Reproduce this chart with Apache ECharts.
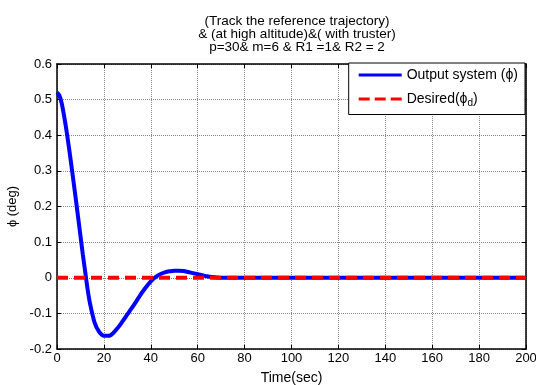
<!DOCTYPE html>
<html><head><meta charset="utf-8">
<script src="https://cdn.jsdelivr.net/npm/echarts@6/dist/echarts.min.js"></script>
<style>html,body{margin:0;padding:0;background:#fff}#c{width:536px;height:385px}</style>
</head><body><div id="c"></div>
<script>
const timeSec = [0,1,2,3,4,5,6,7,8,9,10,11,12,13,14,16,18,20,22,24,26,28,30,32,34,36,38,40,42,44,46,48,50,52,54,56,58,60,62,64,66,68,70,80,100,120,140,160,180,200];
const outputPhi = [0.52,0.512,0.49,0.455,0.415,0.37,0.322,0.272,0.222,0.17,0.118,0.066,0.018,-0.03,-0.07,-0.125,-0.152,-0.163,-0.163,-0.155,-0.14,-0.122,-0.103,-0.084,-0.064,-0.044,-0.026,-0.01,0.002,0.01,0.015,0.018,0.02,0.02,0.019,0.016,0.013,0.01,0.007,0.004,0.002,0.001,0,0,0,0,0,0,0,0];
const desiredTime = [0,200];
const desiredPhi = [0,0];
const titleLines = ['(Track the reference trajectory)','& (at high altitude)&( with truster)','p=30& m=6 & R1 =1& R2 = 2'];
const seriesNames = ['Output system (ϕ)','Desired(ϕd)'];

const font = 'Liberation Sans, Arial, sans-serif';
const chart = echarts.init(document.getElementById('c'), null, {renderer:'canvas'});
const axBase = {
  axisLine:{show:true,onZero:false,lineStyle:{color:'#000',width:1.5}},
  axisTick:{show:true,inside:true,length:4,lineStyle:{color:'#000'}},
};
chart.setOption({
  animation:false,
  backgroundColor:'#fff',
  title:{text:titleLines.join('\n'),left:292,top:10,textAlign:'center',
    textStyle:{fontFamily:font,fontSize:13.5,fontWeight:'normal',color:'#000',lineHeight:13}},
  grid:{left:57,right:10,top:64,bottom:36,show:false,containLabel:false,outerBoundsMode:'none'},
  legend:{show:true,orient:'vertical',right:11,top:63,
    backgroundColor:'#fff',borderColor:'#000',borderWidth:1,
    padding:[5,7,6,10],itemGap:10,itemWidth:43,itemHeight:14,
    data:[{name:seriesNames[0],icon:'path://M0,5.5L43,5.5L43,8.5L0,8.5Z'},
          {name:seriesNames[1],icon:'path://M0,5.5L11,5.5L11,8.5L0,8.5Z M16,5.5L27,5.5L27,8.5L16,8.5Z M32,5.5L43,5.5L43,8.5L32,8.5Z'}],
    formatter:function(n){return n===seriesNames[1]?'Desired(ϕ{sub|d})':n;},
    textStyle:{fontFamily:font,fontSize:14,color:'#000',
      rich:{sub:{fontFamily:font,fontSize:10,color:'#000',padding:[9,0,0,0]}}}},
  xAxis:[
    Object.assign({type:'value',min:0,max:200,interval:20,position:'bottom',
      name:'Time(sec)',nameLocation:'middle',nameGap:22,
      nameTextStyle:{fontFamily:font,fontSize:14,color:'#000'},
      axisLabel:{fontFamily:font,fontSize:13,color:'#000',margin:3},
      splitLine:{show:true,lineStyle:{color:'#888',type:'dotted',width:1}}},axBase),
    Object.assign({type:'value',min:0,max:200,interval:20,position:'top',
      axisLabel:{show:false},splitLine:{show:false}},axBase)
  ],
  yAxis:[
    Object.assign({type:'value',min:-0.2,max:0.6,interval:0.1,position:'left',
      name:'ϕ (deg)',nameLocation:'middle',nameGap:36,nameRotate:90,
      nameTextStyle:{fontFamily:font,fontSize:13,color:'#000'},
      axisLabel:{fontFamily:font,fontSize:13,color:'#000',margin:5,
        formatter:function(v){return String(Math.round(v*10)/10);}},
      splitLine:{show:true,lineStyle:{color:'#888',type:'dotted',width:1}}},axBase),
    Object.assign({type:'value',min:-0.2,max:0.6,interval:0.1,position:'right',
      axisLabel:{show:false},splitLine:{show:false}},axBase)
  ],
  series:[
    {name:seriesNames[0],type:'line',smooth:0.3,showSymbol:false,symbol:'none',
      data:timeSec.map((t,i)=>[t,outputPhi[i]]),
      lineStyle:{color:'#0000ff',width:4},itemStyle:{color:'#0000ff'},z:2},
    {name:seriesNames[1],type:'line',showSymbol:false,symbol:'none',
      data:desiredTime.map((t,i)=>[t,desiredPhi[i]]),
      lineStyle:{color:'#ff0000',width:4,type:[11,6]},itemStyle:{color:'#ff0000'},z:3}
  ]
});
</script></body></html>
